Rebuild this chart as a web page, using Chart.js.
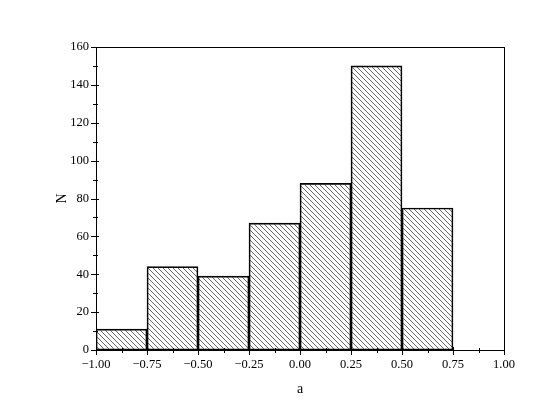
<!DOCTYPE html>
<html><head><meta charset="utf-8">
<script src="https://cdn.jsdelivr.net/npm/chart.js@4.4.0/dist/chart.umd.min.js"></script>
<style>html,body{margin:0;padding:0;background:#fff}#wrap{width:540px;height:413px}</style>
</head><body><div id="wrap"><canvas id="c" width="540" height="413"></canvas></div>
<script>
const binCenters = [-0.875, -0.625, -0.375, -0.125, 0.125, 0.375, 0.625, 0.875];
const counts = [11, 44, 39, 67, 88, 150, 75, 0];
const xMajorTicks = [-1, -0.75, -0.5, -0.25, 0, 0.25, 0.5, 0.75, 1];
const yMajorTicks = [0, 20, 40, 60, 80, 100, 120, 140, 160];

function hatch() {
  const p = document.createElement('canvas');
  p.width = 5; p.height = 5;
  const g = p.getContext('2d');
  g.strokeStyle = '#333'; g.lineWidth = 0.75;
  g.beginPath();
  g.moveTo(-1, -1); g.lineTo(6, 6);
  g.moveTo(-1, 4); g.lineTo(1, 6);
  g.moveTo(4, -1); g.lineTo(6, 1);
  g.stroke();
  return document.getElementById('c').getContext('2d').createPattern(p, 'repeat');
}

const fmtX = v => { const s = Math.abs(v).toFixed(2); return v < 0 ? '\u2212' + s : s; };

const axesPlugin = {
  id: 'axesPlugin',
  afterDatasetsDraw(chart) {
    const {ctx, chartArea: a, scales: {x, y}} = chart;
    ctx.save();
    ctx.strokeStyle = '#000'; ctx.lineWidth = 1;
    ctx.strokeRect(a.left + 0.5, a.top + 0.5, a.right - a.left, a.bottom - a.top);
    ctx.beginPath();
    for (let i = 0; i < xMajorTicks.length; i++) {
      const px = Math.round(x.getPixelForValue(xMajorTicks[i])) + 0.5;
      ctx.moveTo(px, a.bottom - 3); ctx.lineTo(px, a.bottom + 5);
      if (i < xMajorTicks.length - 1) {
        const mx = Math.round(x.getPixelForValue((xMajorTicks[i] + xMajorTicks[i + 1]) / 2)) + 0.5;
        ctx.moveTo(mx, a.bottom - 2); ctx.lineTo(mx, a.bottom + 3);
      }
    }
    for (let i = 0; i < yMajorTicks.length; i++) {
      const py = Math.round(y.getPixelForValue(yMajorTicks[i])) + 0.5;
      ctx.moveTo(a.left - 5, py); ctx.lineTo(a.left + 3, py);
      if (i < yMajorTicks.length - 1) {
        const my = Math.round(y.getPixelForValue((yMajorTicks[i] + yMajorTicks[i + 1]) / 2)) + 0.5;
        ctx.moveTo(a.left - 3, my); ctx.lineTo(a.left + 2, my);
      }
    }
    ctx.stroke();
    ctx.restore();
  }
};

const font = {family: '"Liberation Serif", "Times New Roman", serif', size: 12.5};
const titleFont = {family: '"Liberation Serif", "Times New Roman", serif', size: 14};

new Chart(document.getElementById('c'), {
  type: 'bar',
  data: {
    datasets: [{
      data: binCenters.map((c, i) => ({x: c, y: counts[i]})),
      backgroundColor: hatch(),
      borderColor: '#000',
      borderWidth: 1,
      borderSkipped: false,
      barPercentage: 1,
      categoryPercentage: 1
    }]
  },
  options: {
    responsive: false,
    animation: false,
    devicePixelRatio: 1,
    layout: {padding: {left: 0, top: 47, right: 36, bottom: 0}},
    plugins: {legend: {display: false}, tooltip: {enabled: false}},
    scales: {
      x: {
        type: 'linear', min: -1, max: 1, offset: false,
        afterBuildTicks: s => { s.ticks = xMajorTicks.map(v => ({value: v})); },
        afterFit: s => { s.height = 63; },
        grid: {display: false, drawTicks: false, offset: false},
        border: {display: false},
        ticks: {font, color: '#000', padding: 7, callback: v => fmtX(v), maxRotation: 0, autoSkip: false},
        title: {display: true, text: 'a', font: titleFont, color: '#000', padding: {top: 0, bottom: 15}}
      },
      y: {
        min: 0, max: 160,
        afterBuildTicks: s => { s.ticks = yMajorTicks.map(v => ({value: v})); },
        afterFit: s => { s.width = 96; },
        grid: {display: false, drawTicks: false},
        border: {display: false},
        ticks: {font, color: '#000', padding: 7},
        title: {display: true, text: 'N', font: titleFont, color: '#000', padding: {top: 54, bottom: 0}}
      }
    }
  },
  plugins: [axesPlugin]
});
</script></body></html>
